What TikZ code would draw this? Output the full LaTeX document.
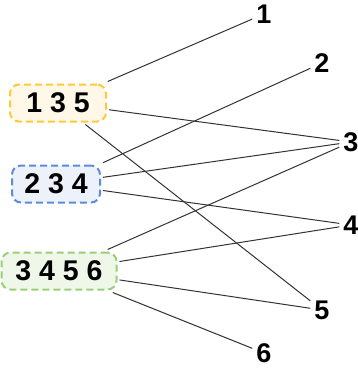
\documentclass[tikz,border=0pt]{standalone}
\usepackage{fontspec}
\setmainfont{Liberation Sans}
\definecolor{ybd}{HTML}{FFC935}
\definecolor{yfl}{HTML}{FFF8E8}
\definecolor{bbd}{HTML}{5B8BDB}
\definecolor{bfl}{HTML}{EDF2FA}
\definecolor{gbd}{HTML}{97D077}
\definecolor{gfl}{HTML}{EFF7E8}
\definecolor{ln}{HTML}{333333}
\tikzset{
  setbox/.style={draw=#1bd, fill=#1fl, line width=2pt, dash pattern=on 7pt off 4pt,
    rounded corners=9pt, inner sep=0pt, outer sep=3pt, minimum height=37pt,
    font=\fontsize{28.5}{32}\selectfont\bfseries},
  lbl/.style={inner sep=4pt, font=\fontsize{27}{30}\selectfont\bfseries},
  conn/.style={draw=ln, line width=1pt}
}
\begin{document}
\begin{tikzpicture}[x=1pt,y=-1pt]
\useasboundingbox (0,0) rectangle (358,370);
\node[setbox=y, minimum width=96pt] (a) at (58,103) {1 3 5};
\node[setbox=b, minimum width=88pt] (b) at (56,184) {2 3 4};
\node[setbox=g, minimum width=115pt] (c) at (59,271) {3 4 5 6};
\node[lbl] (n1) at (264,14) {1};
\node[lbl] (n2) at (322,63) {2};
\node[lbl] (n3) at (351,142) {3};
\node[lbl] (n4) at (351,225) {4};
\node[lbl] (n5) at (322,310) {5};
\node[lbl] (n6) at (264,353) {6};
\draw[conn] (a) -- (n1);
\draw[conn] (a) -- (n3);
\draw[conn] (a) -- (n5);
\draw[conn] (b) -- (n2);
\draw[conn] (b) -- (n3);
\draw[conn] (b) -- (n4);
\draw[conn] (c) -- (n3);
\draw[conn] (c) -- (n4);
\draw[conn] (c) -- (n5);
\draw[conn] (c) -- (n6);
\end{tikzpicture}
\end{document}
